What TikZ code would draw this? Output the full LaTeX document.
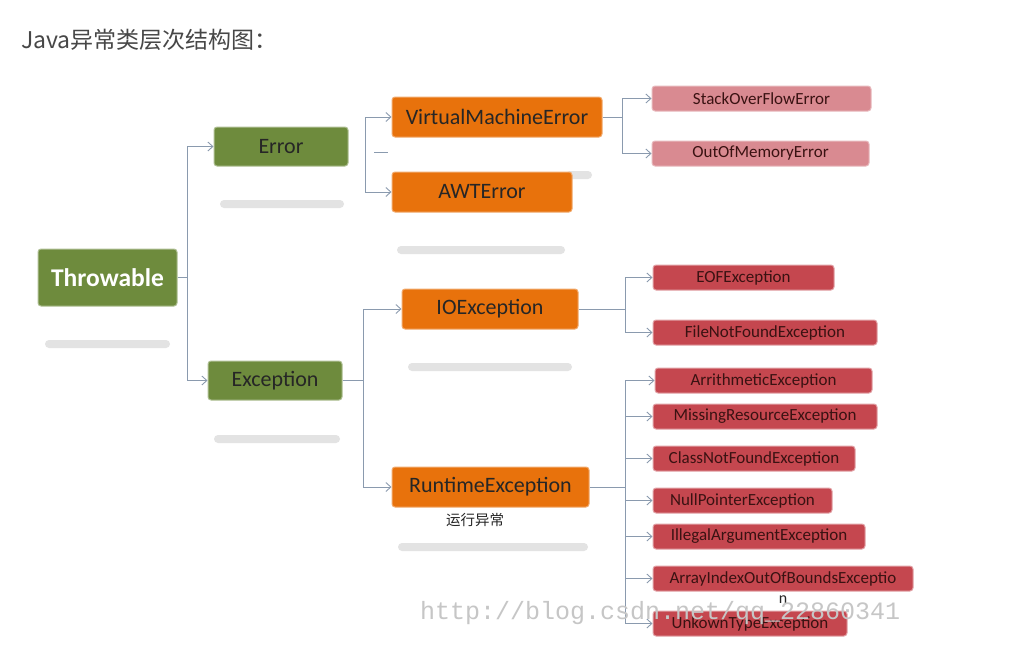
\documentclass[tikz,border=0pt]{standalone}
\usepackage{fontspec}
\setmainfont{Carlito}
\newfontfamily\cjk{Noto Sans CJK SC}
\newfontfamily\wmfont{Liberation Mono}
\usetikzlibrary{arrows.meta,calc}
\definecolor{grn}{HTML}{6E8B3D}
\definecolor{org}{HTML}{E8720C}
\definecolor{rd}{HTML}{C5474F}
\definecolor{pnk}{HTML}{D98A91}
\definecolor{ln}{HTML}{8A9AAE}
\definecolor{dtx}{HTML}{3A1212}
\tikzset{
  base/.style={rounded corners=3pt, inner sep=0pt, anchor=center},
  gbox/.style={base, fill=grn, draw=grn!55!white, line width=1pt, text=black!85, font=\fontsize{22}{25}\selectfont},
  obox/.style={base, fill=org, draw=org!60!white, line width=1pt, text=black!85, font=\fontsize{22}{25}\selectfont},
  rbox/.style={base, fill=rd, draw=rd!50!white, line width=1pt, text=dtx, font=\fontsize{17}{20}\selectfont},
  pbox/.style={base, fill=pnk, draw=pnk!60!white, line width=1pt, text=dtx, font=\fontsize{17}{20}\selectfont},
  conn/.style={draw=ln, line width=0.9pt},
  arr/.style={conn, -{Straight Barb[length=5pt,width=9pt]}},
  shadowbar/.style={fill=gray!22, rounded corners=4pt, draw=none},
}
\begin{document}
\begin{tikzpicture}[x=1pt,y=-1pt]
\useasboundingbox (0,0) rectangle (1033,659);
\fill[white] (0,0) rectangle (1033,659);
% title
\node[anchor=west, inner sep=0pt, text=black!72, font=\cjk\fontsize{23}{26}\selectfont] (title) at (21,40) {Java异常类层次结构图：};
% shadow bars
\fill[shadowbar] (45,340) rectangle (170,348);
\fill[shadowbar] (220,200) rectangle (344,208);
\fill[shadowbar] (214,435) rectangle (340,443);
\fill[shadowbar] (397,246) rectangle (565,254);
\fill[shadowbar] (408,363) rectangle (572,371);
\fill[shadowbar] (398,543) rectangle (588,551);
\fill[shadowbar] (566,171) rectangle (592,179);
% nodes
\node[gbox, minimum width=139, minimum height=57, text=white, font=\bfseries\fontsize{25.5}{28}\selectfont] (thr) at (107.5,277.5) {Throwable};
\node[gbox, minimum width=134, minimum height=39] (err) at (281,146.5) {Error};
\node[gbox, minimum width=134, minimum height=39] (exc) at (275,380.5) {Exception};
\node[obox, minimum width=210, minimum height=40] (vme) at (497,117) {VirtualMachineError};
\node[obox, minimum width=180, minimum height=40] (awt) at (482,192) {AWTError};
\node[obox, minimum width=176, minimum height=40] (ioe) at (490,309) {IOException};
\node[obox, minimum width=197, minimum height=40] (rte) at (490.5,487) {RuntimeException};
\node[inner sep=0pt, font=\cjk\fontsize{14.5}{17}\selectfont, text=black!85] (rtl) at (475,520) {运行异常};
\node[pbox, minimum width=219, minimum height=25] (sof) at (761.5,98.5) {StackOverFlowError};
\node[pbox, minimum width=217, minimum height=25] (oom) at (760.5,153.5) {OutOfMemoryError};
\node[rbox, minimum width=181, minimum height=25] (eof) at (743.5,277.5) {EOFException};
\node[rbox, minimum width=224, minimum height=25] (fnf) at (765,332.5) {FileNotFoundException};
\node[rbox, minimum width=217, minimum height=25] (ari) at (763.5,380.5) {ArrithmeticException};
\node[rbox, minimum width=224, minimum height=25] (mre) at (765,416.5) {MissingResourceException};
\node[rbox, minimum width=202, minimum height=25] (cnf) at (754,458.5) {ClassNotFoundException};
\node[rbox, minimum width=179, minimum height=25] (npe) at (742.5,500.5) {NullPointerException};
\node[rbox, minimum width=212, minimum height=25] (iae) at (759,536.5) {IllegalArgumentException};
\node[rbox, minimum width=260, minimum height=25] (aio) at (783,578.5) {ArrayIndexOutOfBoundsExceptio};
\node[inner sep=0pt, font=\fontsize{16}{18}\selectfont, text=black!85] (aion) at (783,600) {n};
\node[rbox, minimum width=194, minimum height=25] (ute) at (750,623.5) {UnkownTypeException};
% connectors
\coordinate (tb) at ($(thr.east)+(10,0)$);
\draw[conn] (thr.east) -- (tb);
\draw[arr] (tb) |- (err.west);
\draw[arr] (tb) |- (exc.west);
\coordinate (eb) at (365,154);
\draw[arr] (eb) |- (vme.west);
\draw[arr] (eb) |- (awt.west);
\coordinate (d1) at (374,152);
\coordinate (d2) at (388,152);
\draw[conn] (d1) -- (d2);
\coordinate (xb) at ($(exc.east)+(21,0)$);
\draw[conn] (exc.east) -- (xb);
\draw[arr] (xb) |- (ioe.west);
\draw[arr] (xb) |- (rte.west);
\coordinate (vb) at ($(vme.east)+(20,0)$);
\draw[conn] (vme.east) -- (vb);
\draw[arr] (vb) |- (sof.west);
\draw[arr] (vb) |- (oom.west);
\coordinate (ib) at ($(ioe.east)+(47,0)$);
\draw[conn] (ioe.east) -- (ib);
\draw[arr] (ib) |- (eof.west);
\draw[arr] (ib) |- (fnf.west);
\coordinate (rb) at ($(rte.east)+(36,0)$);
\draw[conn] (rte.east) -- (rb);
\foreach \n in {ari,mre,cnf,npe,iae,aio,ute} {\draw[arr] (rb) |- (\n.west);}
% watermark
\node[anchor=west, inner sep=0pt, text=gray!45, font=\wmfont\fontsize{25}{28}\selectfont] (wm) at (420,613) {http://blog.csdn.net/qq\_22860341};
\end{tikzpicture}
\end{document}
